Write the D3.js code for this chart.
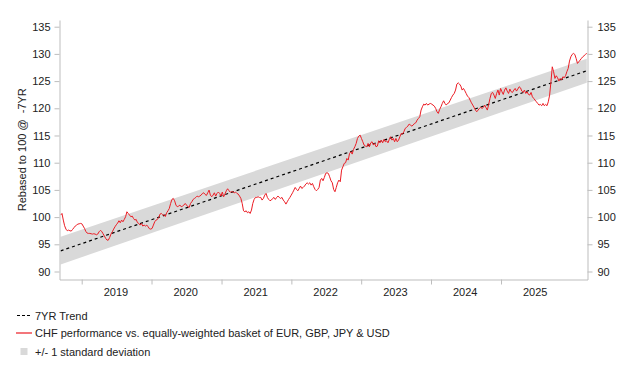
<!DOCTYPE html>
<html>
<head>
<meta charset="utf-8">
<script src="https://cdn.jsdelivr.net/npm/d3@7"></script>
<style>
	body { margin: 0; background: #fff; }
	text { font-family: "Liberation Sans", Arial, sans-serif; }
</style>
</head>
<body>
<svg id="chart" width="625" height="365"></svg>
<script>
// series: CHF vs basket, evenly spaced between first and last date
var START_DATE = new Date(2018, 2, 13);
var END_DATE = new Date(2025, 8, 22);
var chfValues = [
	100.37, 100.67, 99.45, 98.41, 97.79, 97.49, 97.61, 97.49, 97.43, 97.73,
	98.04, 98.35, 98.53, 98.71, 98.77, 98.84, 98.77, 98.35, 97.92, 97.37,
	97.06, 97.00, 97.00, 96.94, 96.88, 96.94, 96.88, 96.75, 96.88, 97.30,
	97.55, 97.37, 96.94, 96.51, 96.08, 95.77, 95.77, 96.26, 96.88, 97.30,
	97.79, 98.22, 98.59, 98.90, 99.33, 98.96, 99.45, 99.14, 99.57, 100.06,
	100.98, 100.67, 100.37, 100.06, 100.18, 99.75, 99.45, 99.57, 98.96, 98.84,
	98.53, 98.84, 98.35, 98.53, 98.35, 98.53, 98.22, 97.86, 97.79, 97.92,
	98.53, 99.14, 99.45, 99.57, 99.94, 100.55, 100.67, 100.43, 100.37, 100.1,
	100.80, 101.16, 101.59, 102.51, 103.25, 103.43, 103.00, 102.21, 101.90, 102.02,
	102.21, 101.90, 102.02, 102.21, 102.51, 102.21, 101.90, 101.78, 102.51, 102.82,
	103.25, 103.43, 103.62, 103.86, 103.74, 103.86, 104.04, 104.35, 104.47, 104.17,
	103.98, 104.47, 104.96, 104.04, 103.74, 104.04, 104.47, 103.86, 104.35, 104.60,
	104.35, 103.86, 104.60, 103.74, 104.23, 104.84, 105.21, 104.84, 104.60, 104.66,
	104.66, 104.47, 104.60, 104.35, 104.23, 103.86, 103.43, 102.51, 101.16, 100.98,
	101.16, 100.80, 100.98, 100.67, 101.29, 102.51, 103.25, 103.62, 103.62, 103.74,
	103.62, 103.62, 103.13, 103.43, 104.04, 104.35, 103.62, 103.25, 103.00, 103.13,
	103.43, 103.62, 103.25, 103.62, 103.86, 103.62, 103.43, 103.62, 103.13, 102.82,
	102.39, 102.82, 103.25, 103.62, 104.04, 104.47, 104.96, 105.45, 105.09, 104.84,
	105.27, 105.70, 105.27, 105.45, 105.70, 106.07, 106.31, 106.07, 106.31, 105.88,
	106.19, 105.58, 105.09, 104.84, 105.09, 105.45, 106.80, 107.11, 106.68, 107.29,
	108.03, 108.15, 108.03, 107.41, 106.68, 106.31, 105.09, 104.66, 105.45, 106.31,
	106.80, 106.50, 108.64, 109.25, 109.87, 109.99, 110.78, 110.48, 111.70, 112.01,
	111.58, 112.44, 112.93, 113.54, 114.46, 114.89, 115.07, 114.46, 113.85, 113.24,
	113.05, 112.93, 113.54, 112.93, 113.66, 113.85, 113.24, 113.54, 112.93, 113.05,
	114.03, 113.66, 114.15, 113.66, 114.28, 113.85, 114.03, 113.66, 114.28, 114.77,
	114.15, 114.46, 113.85, 114.46, 113.85, 114.15, 114.77, 115.38, 115.26, 115.69,
	116.30, 116.48, 116.73, 117.10, 116.91, 116.73, 116.91, 117.22, 117.34, 117.83,
	118.14, 118.44, 119.67, 120.28, 120.77, 120.59, 120.89, 120.59, 120.77, 120.89,
	120.77, 120.59, 120.40, 119.98, 119.36, 119.06, 119.79, 120.28, 120.89, 121.38,
	120.89, 120.59, 120.89, 121.01, 121.51, 122.00, 122.43, 122.73, 123.35, 124.45,
	124.69, 124.45, 124.08, 123.35, 123.65, 123.22, 122.73, 122.24, 122.00, 121.51,
	121.01, 120.59, 120.16, 119.67, 119.36, 119.67, 119.98, 120.16, 119.98, 120.16,
	120.59, 120.10, 119.67, 120.71, 121.81, 122.73, 122.92, 122.43, 121.81, 122.73,
	123.35, 122.43, 123.65, 123.04, 122.55, 123.35, 123.77, 123.16, 122.73, 123.53,
	123.04, 122.92, 123.35, 123.65, 123.16, 123.53, 123.96, 123.77, 123.16, 122.92,
	123.35, 122.73, 123.04, 122.55, 122.43, 122.92, 122.12, 121.81, 121.51, 121.20,
	120.89, 120.59, 120.71, 120.47, 120.89, 120.47, 120.71, 120.47, 121.20, 122.43,
	124.88, 127.63, 126.72, 125.49, 125.98, 125.61, 125.00, 125.49, 125.18, 125.80,
	125.61, 125.98, 126.72, 127.33, 128.68, 129.47, 129.90, 130.09, 129.90, 129.17,
	128.25, 128.55, 128.86, 129.17, 129.47, 129.66, 129.90, 130.09
];

// 7YR trend and +/- 1 std band, at first and last date
var trendValues = [93.8, 126.9];
var bandUpper = [96.4, 129.1];
var bandLower = [91.3, 124.7];

var yearLabels = ["2019", "2020", "2021", "2022", "2023", "2024", "2025"];
var yTicks = [90, 95, 100, 105, 110, 115, 120, 125, 130, 135];
var legendLabels = ["7YR Trend", "CHF performance vs. equally-weighted basket of EUR, GBP, JPY & USD", "+/- 1 standard deviation"];

var svg = d3.select("#chart");
var plotL = 59.5, plotR = 587.5, plotT = 20, plotB = 279.5;
var axisColor = "#bdbdbd";
var textColor = "#222";

var x = d3.scaleTime()
	.domain([new Date(2018, 2, 7), new Date(2025, 8, 26)])
	.range([plotL, plotR]);
var y = d3.scaleLinear()
	.domain([88.53, 136.23])
	.range([plotB, plotT]);

var idx = d3.scaleLinear()
	.domain([0, chfValues.length - 1])
	.range([START_DATE, END_DATE]);
var series = chfValues.map(function(v, i) {
	return { date: new Date(idx(i)), value: v };
});
var trendDates = [START_DATE, END_DATE];
var band = trendDates.map(function(d, i) {
	return { date: d, hi: bandUpper[i], lo: bandLower[i], mid: trendValues[i] };
});

// band
svg.append("path")
	.datum(band)
	.attr("d", d3.area()
		.x(function(d) { return x(d.date); })
		.y0(function(d) { return y(d.lo); })
		.y1(function(d) { return y(d.hi); }))
	.attr("fill", "#d9d9d9");

// trend
svg.append("path")
	.datum(band)
	.attr("d", d3.line()
		.x(function(d) { return x(d.date); })
		.y(function(d) { return y(d.mid); }))
	.attr("fill", "none")
	.attr("stroke", "#000")
	.attr("stroke-width", 1.2)
	.attr("stroke-dasharray", "3,3");

// CHF line
svg.append("path")
	.datum(series)
	.attr("d", d3.line()
		.x(function(d) { return x(d.date); })
		.y(function(d) { return y(d.value); }))
	.attr("fill", "none")
	.attr("stroke", "#ec1c24")
	.attr("stroke-width", 1)
	.attr("stroke-linejoin", "round");

// y axes, both sides
function styleAxis(g) {
	g.select(".domain").attr("stroke", axisColor);
	g.selectAll(".tick line").attr("stroke", axisColor);
	g.selectAll(".tick text")
		.attr("fill", textColor)
		.attr("font-size", 11)
		.attr("font-family", "Liberation Sans, Arial, sans-serif");
}

svg.append("g")
	.attr("transform", "translate(" + plotL + ",0)")
	.call(d3.axisLeft(y).tickValues(yTicks).tickSize(5).tickSizeOuter(0).tickPadding(4))
	.call(styleAxis);

svg.append("g")
	.attr("transform", "translate(" + plotR + ",0)")
	.call(d3.axisRight(y).tickValues(yTicks).tickSize(5).tickSizeOuter(0).tickPadding(5))
	.call(styleAxis);

// x axis: ticks mid-year, labels on year start
var xTicks = yearLabels.map(function(yr) { return new Date(+yr - 1, 6, 1); });
svg.append("g")
	.attr("transform", "translate(0," + plotB + ")")
	.call(d3.axisBottom(x).tickValues(xTicks).tickSize(5).tickSizeOuter(0).tickFormat(""))
	.call(styleAxis);

svg.selectAll(".year-label")
	.data(yearLabels)
	.enter().append("text")
	.attr("class", "year-label")
	.attr("x", function(d) { return x(new Date(+d, 0, 1)) - 1; })
	.attr("y", plotB + 16)
	.attr("text-anchor", "middle")
	.attr("font-size", 11)
	.attr("fill", textColor)
	.text(function(d) { return d; });

// y title
svg.append("text")
	.attr("transform", "translate(26," + ((plotT + plotB) / 2) + ") rotate(-90)")
	.attr("text-anchor", "middle")
	.attr("font-size", 11)
	.attr("fill", textColor)
	.style("white-space", "pre")
	.text("Rebased to 100 @  -7YR");

// legend
var legend = svg.append("g");
var rowY = [315.5, 333, 351.5];

legend.append("line")
	.attr("x1", 17).attr("x2", 32)
	.attr("y1", rowY[0]).attr("y2", rowY[0])
	.attr("stroke", "#000")
	.attr("stroke-width", 1)
	.attr("stroke-dasharray", "3,2");
legend.append("line")
	.attr("x1", 16).attr("x2", 32)
	.attr("y1", rowY[1]).attr("y2", rowY[1])
	.attr("stroke", "#ec1c24")
	.attr("stroke-width", 1.2);
legend.append("rect")
	.attr("x", 20.5).attr("y", rowY[2] - 3.5)
	.attr("width", 7).attr("height", 7)
	.attr("fill", "#d9d9d9");

legend.selectAll(".legend-text")
	.data(legendLabels)
	.enter().append("text")
	.attr("class", "legend-text")
	.attr("x", 35)
	.attr("y", function(d, i) { return rowY[i]; })
	.attr("dominant-baseline", "central")
	.attr("font-size", 11)
	.attr("fill", textColor)
	.text(function(d) { return d; });
</script>
</body>
</html>
